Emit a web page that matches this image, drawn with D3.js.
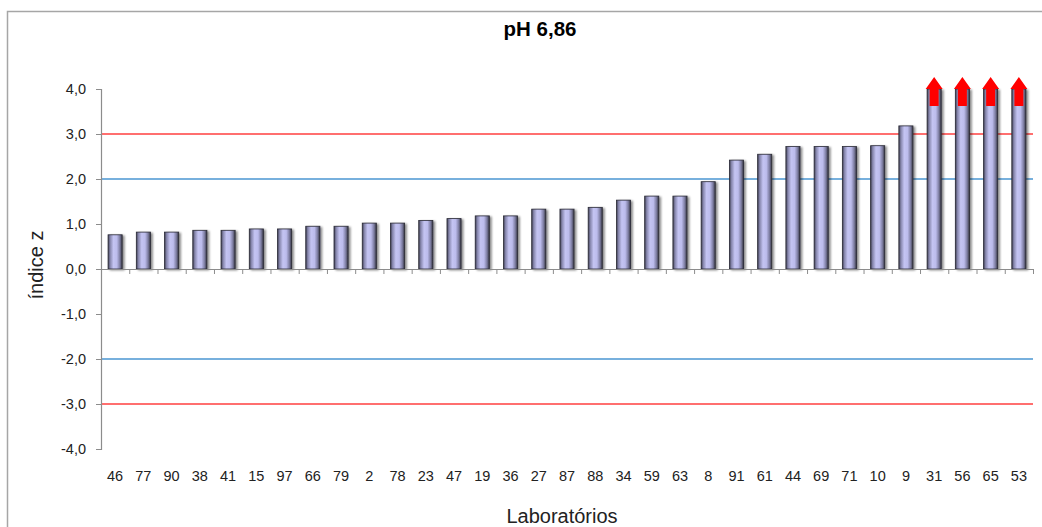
<!DOCTYPE html>
<html>
<head>
<meta charset="utf-8">
<script src="https://cdn.jsdelivr.net/npm/d3@7"></script>
<style>
  body { margin: 0; background: #fff; }
  svg { font-family: "Liberation Sans", Arial, sans-serif; }
</style>
</head>
<body>
<svg id="chart" width="1042" height="527"></svg>
<script>
// Laboratory codes, in the order shown
const labs = ["46", "77", "90", "38", "41", "15", "97", "66", "79", "2", "78", "23", "47", "19", "36", "27", "87", "88", "34", "59", "63", "8", "91", "61", "44", "69", "71", "10", "9", "31", "56", "65", "53"];

// z-scores (last four are off the scale, drawn at 4,0)
const zScores = [0.76, 0.82, 0.82, 0.86, 0.86, 0.89, 0.89, 0.95, 0.95, 1.02, 1.02, 1.08, 1.12, 1.18, 1.18, 1.33, 1.33, 1.37, 1.53, 1.62, 1.62, 1.94, 2.42, 2.55, 2.72, 2.72, 2.72, 2.74, 3.18, 4.0, 4.0, 4.0, 4.0];

// labs whose score is above the axis maximum
const offScale = ["31", "56", "65", "53"];

const yTicks = [-4, -3, -2, -1, 0, 1, 2, 3, 4];
const warnLimits = [2, -2];
const actionLimits = [3, -3];

const data = labs.map((lab, i) => ({ lab, z: zScores[i] }));

const margin = { top: 89, right: 9, bottom: 78, left: 101 };
const W = 1042, H = 527;
const width = W - margin.left - margin.right;
const height = H - margin.top - margin.bottom;

const svg = d3.select("#chart");

// outer chart frame
svg.append("rect")
    .attr("x", 7.5).attr("y", 11.5)
    .attr("width", 1200).attr("height", 700)
    .attr("fill", "none")
    .attr("stroke", "#a6a6a6")
    .attr("stroke-width", 1.5);

const defs = svg.append("defs");
const grad = defs.append("linearGradient").attr("id", "barGrad")
    .attr("x1", "0%").attr("x2", "100%").attr("y1", "0%").attr("y2", "0%");
[["0%", "#3a3a4c"], ["14%", "#8484aa"], ["38%", "#c4c4f2"], ["62%", "#bcbcec"], ["84%", "#7c7ca0"], ["100%", "#34343f"]]
    .forEach(([o, c]) => grad.append("stop").attr("offset", o).attr("stop-color", c));

const shadow = defs.append("filter").attr("id", "shadow")
    .attr("x", "-50%").attr("y", "-10%").attr("width", "200%").attr("height", "130%");
shadow.append("feGaussianBlur").attr("in", "SourceAlpha").attr("stdDeviation", 1.2).attr("result", "b");
shadow.append("feOffset").attr("in", "b").attr("dx", 1.5).attr("dy", 1).attr("result", "o");
shadow.append("feComponentTransfer").attr("in", "o").attr("result", "s")
    .append("feFuncA").attr("type", "linear").attr("slope", 0.45);
const merge = shadow.append("feMerge");
merge.append("feMergeNode").attr("in", "s");
merge.append("feMergeNode").attr("in", "SourceGraphic");

const g = svg.append("g").attr("transform", `translate(${margin.left},${margin.top})`);

const x = d3.scaleBand()
    .domain(labs)
    .range([0, width])
    .paddingInner(0.5)
    .paddingOuter(0.25);

const y = d3.scaleLinear()
    .domain([-4, 4])
    .range([height, 0]);

// limit lines
g.selectAll(".warn")
    .data(warnLimits)
    .enter().append("line")
    .attr("x1", 0).attr("x2", width)
    .attr("y1", d => y(d)).attr("y2", d => y(d))
    .attr("stroke", "#4a96d2").attr("stroke-width", 1.6);

g.selectAll(".action")
    .data(actionLimits)
    .enter().append("line")
    .attr("x1", 0).attr("x2", width)
    .attr("y1", d => y(d)).attr("y2", d => y(d))
    .attr("stroke", "#ff3f3f").attr("stroke-width", 1.6);

// bars
g.selectAll(".bar")
    .data(data)
    .enter().append("rect")
    .attr("class", "bar")
    .attr("x", d => x(d.lab))
    .attr("y", d => y(d.z))
    .attr("width", x.bandwidth())
    .attr("height", d => y(0) - y(d.z))
    .attr("fill", "url(#barGrad)")
    .attr("stroke", "#2a2a36")
    .attr("stroke-width", 0.8)
    .attr("filter", "url(#shadow)");

// red arrows for off-scale results
const arrow = d3.path;
g.selectAll(".arrow")
    .data(data.filter(d => offScale.includes(d.lab)))
    .enter().append("path")
    .attr("class", "arrow")
    .attr("d", d => {
        const cx = x(d.lab) + x.bandwidth() / 2;
        const top = y(d.z);
        const p = arrow();
        p.moveTo(cx, top - 12);
        p.lineTo(cx + 8.5, top);
        p.lineTo(cx + 4.5, top);
        p.lineTo(cx + 4.5, top + 17);
        p.lineTo(cx - 4.5, top + 17);
        p.lineTo(cx - 4.5, top);
        p.lineTo(cx - 8.5, top);
        p.closePath();
        return p.toString();
    })
    .attr("fill", "#ff0000");

// y axis
const yAxis = g.append("g")
    .call(d3.axisLeft(y).tickValues(yTicks).tickSize(5).tickPadding(10)
        .tickFormat(d => d3.format(".1f")(d).replace(".", ",").replace("−", "-")));
yAxis.select(".domain").attr("stroke", "#8c8c8c").attr("stroke-width", 1.2);
yAxis.selectAll(".tick line").attr("stroke", "#8c8c8c");
yAxis.selectAll("text").attr("font-size", 14.5).attr("fill", "#222");

// x axis line at zero with ticks between categories
const step = x.step();
const boundaries = d3.range(labs.length + 1).map(i => i * width / labs.length);
const xb = d3.scaleLinear().domain([0, width]).range([0, width]);
const xAxis = g.append("g")
    .attr("transform", `translate(0,${y(0)})`)
    .call(d3.axisBottom(xb).tickValues(boundaries).tickSize(5).tickSizeOuter(0).tickFormat(""));
xAxis.select(".domain").attr("stroke", "#8c8c8c").attr("stroke-width", 1.2);
xAxis.selectAll(".tick line").attr("stroke", "#8c8c8c");

// category labels at the bottom
const xLabels = g.append("g")
    .attr("transform", `translate(0,${height})`)
    .call(d3.axisBottom(x).tickSize(0).tickPadding(22));
xLabels.select(".domain").remove();
xLabels.selectAll("text").attr("font-size", 14.5).attr("fill", "#222");

// titles
svg.append("text")
    .attr("x", 540).attr("y", 36)
    .attr("text-anchor", "middle")
    .attr("font-size", 20.5)
    .attr("font-weight", "bold")
    .text("pH 6,86");

svg.append("text")
    .attr("transform", `translate(43,265) rotate(-90)`)
    .attr("text-anchor", "middle")
    .attr("font-size", 20)
    .attr("fill", "#222")
    .text("índice z");

svg.append("text")
    .attr("x", 562).attr("y", 523)
    .attr("text-anchor", "middle")
    .attr("font-size", 20)
    .attr("fill", "#222")
    .text("Laboratórios");
</script>
</body>
</html>
